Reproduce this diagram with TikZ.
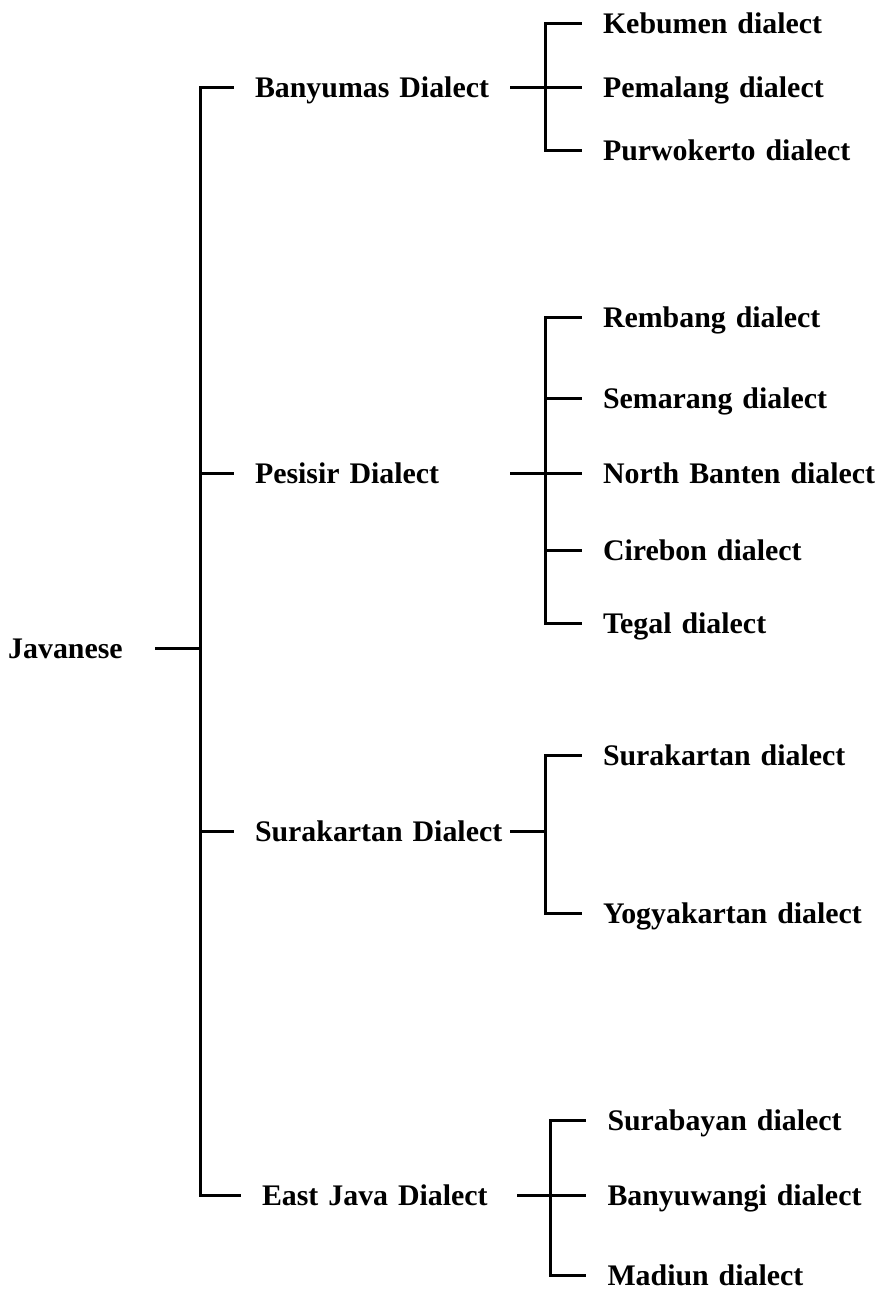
\documentclass[tikz,border=0pt]{standalone}
\usepackage{fontspec}
\setmainfont{Liberation Serif}
\usetikzlibrary{positioning}
\tikzstyle{toplang} = [inner sep=0pt, text height=0.46cm, text depth=0.06cm, font=\fontsize{17}{20}\selectfont\bfseries]
\tikzstyle{dialect} = [toplang, text width=5.1cm, align=left]
\tikzstyle{subdialect} = [toplang, text width=5.6cm, align=left]
\tikzstyle{branch} = [line width=0.06cm]
\tikzstyle{twig} = [branch, shorten >=0.42cm]

\begin{document}
\begin{tikzpicture}[node distance=1.5cm, on grid]
\useasboundingbox (0,0) rectangle (17.64,-25.8);
\node (javanese) [toplang] at (1.31,-12.96) {Javanese};
\node (pesisir) [dialect, above right=3.5cm and 6.34cm of javanese] {Pesisir Dialect};
\node (banyumas) [dialect, above=7.72cm of pesisir] {Banyumas Dialect};
\node (surakarta) [dialect, below=7.16cm of pesisir] {Surakartan Dialect};
\node (eastjava) [dialect, below=7.28cm of surakarta, xshift=0.14cm] {East Java Dialect};

\node (pemalang) [subdialect, right=7.21cm of banyumas] {Pemalang dialect};
\node (kebumen) [subdialect, above=1.28cm of pemalang] {Kebumen dialect};
\node (purwokerto) [subdialect, below=1.26cm of pemalang] {Purwokerto dialect};
\node (northbanten) [subdialect, right=7.21cm of pesisir] {North Banten dialect};
\node (semarang) [subdialect, above=1.5cm of northbanten] {Semarang dialect};
\node (rembang) [subdialect, above=1.62cm of semarang] {Rembang dialect};
\node (cirebon) [subdialect, below=1.54cm of northbanten] {Cirebon dialect};
\node (tegal) [subdialect, below=1.46cm of cirebon] {Tegal dialect};
\node (surakartan) [subdialect, above right=1.52cm and 7.21cm of surakarta] {Surakartan dialect};
\node (yogyakartan) [subdialect, below right=1.64cm and 7.21cm of surakarta] {Yogyakartan dialect};
\node (banyuwangi) [subdialect, right=7.16cm of eastjava] {Banyuwangi dialect};
\node (surabayan) [subdialect, above=1.5cm of banyuwangi] {Surabayan dialect};
\node (madiun) [subdialect, below=1.6cm of banyuwangi] {Madiun dialect};

\coordinate (trunk) at ([xshift=2.69cm]javanese.center);
\coordinate (banyumas-fork) at ([xshift=0.7cm]banyumas.east);
\coordinate (pesisir-fork) at ([xshift=0.7cm]pesisir.east);
\coordinate (surakarta-fork) at ([xshift=0.7cm]surakarta.east);
\coordinate (eastjava-fork) at ([xshift=0.66cm]eastjava.east);

\draw [branch, shorten <=0.64cm] (javanese) -- (trunk);
\draw [twig] (trunk) |- (banyumas);
\draw [twig] (trunk) |- (pesisir);
\draw [twig] (trunk) |- (surakarta);
\draw [twig] (trunk) |- (eastjava);

\draw [branch] (banyumas) -- (banyumas-fork);
\draw [twig] (banyumas-fork) |- (kebumen);
\draw [twig] (banyumas-fork) |- (pemalang);
\draw [twig] (banyumas-fork) |- (purwokerto);

\draw [branch] (pesisir) -- (pesisir-fork);
\draw [twig] (pesisir-fork) |- (rembang);
\draw [twig] (pesisir-fork) |- (semarang);
\draw [twig] (pesisir-fork) |- (northbanten);
\draw [twig] (pesisir-fork) |- (cirebon);
\draw [twig] (pesisir-fork) |- (tegal);

\draw [branch] (surakarta) -- (surakarta-fork);
\draw [twig] (surakarta-fork) |- (surakartan);
\draw [twig] (surakarta-fork) |- (yogyakartan);

\draw [branch] (eastjava) -- (eastjava-fork);
\draw [twig] (eastjava-fork) |- (surabayan);
\draw [twig] (eastjava-fork) |- (banyuwangi);
\draw [twig] (eastjava-fork) |- (madiun);
\end{tikzpicture}
\end{document}
